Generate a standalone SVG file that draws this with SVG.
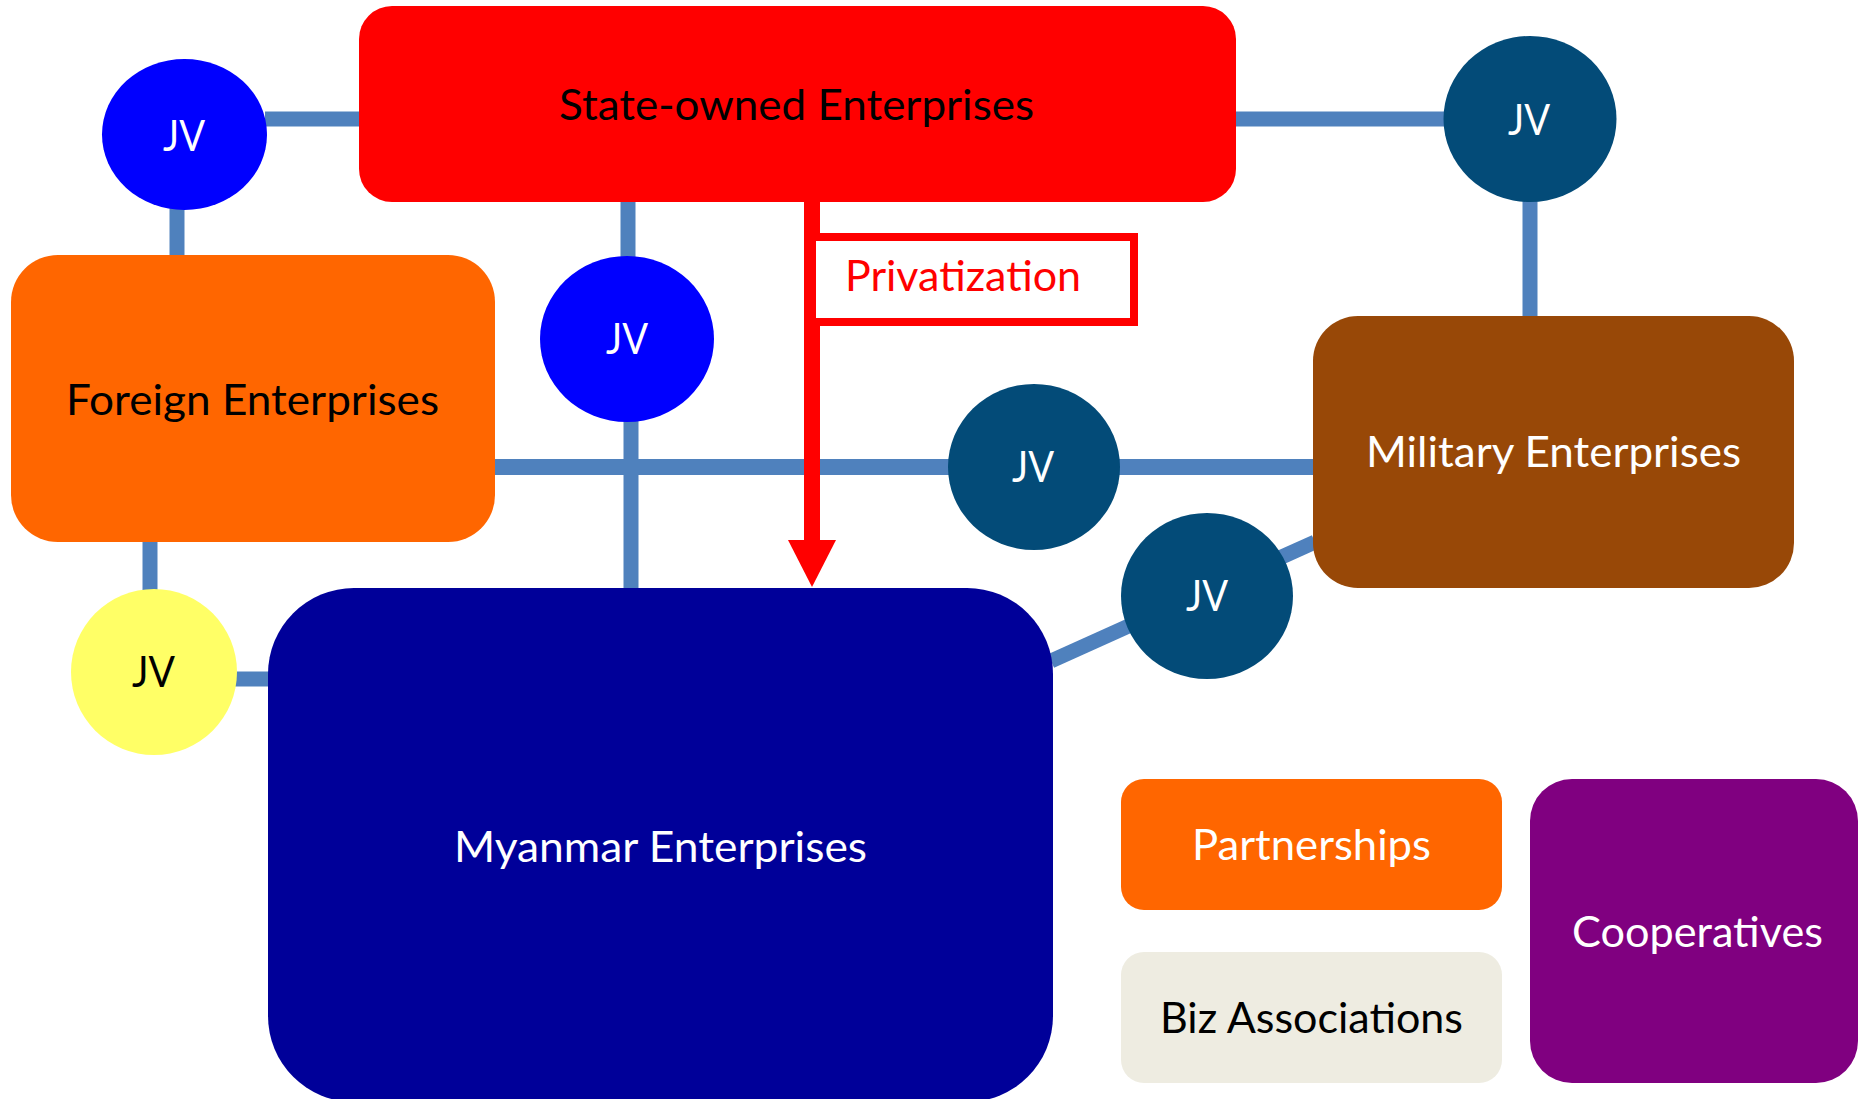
<svg xmlns="http://www.w3.org/2000/svg" width="1863" height="1099" viewBox="0 0 1863 1099">
<defs>
<style>
.t{font-family:Lato,"Open Sans","DejaVu Sans",sans-serif;font-size:42px;}
.w{fill:#ffffff}
.k{fill:#000000}
.c{stroke:#4f81bd;stroke-width:15;fill:none}
.teal{fill:#034b78}
.blue{fill:#0000ff}
</style>
</defs>
<rect width="1863" height="1099" fill="#ffffff"/>
<g id="connectors">
  <line class="c" x1="265" y1="119" x2="361" y2="119"/>
  <line class="c" x1="177" y1="205" x2="177" y2="258"/>
  <line class="c" x1="1232" y1="119" x2="1446" y2="119"/>
  <line class="c" x1="1530" y1="198" x2="1530" y2="318"/>
  <line class="c" x1="628" y1="200" x2="628" y2="260"/>
  <line class="c" x1="631" y1="418" x2="631" y2="590"/>
  <line class="c" style="stroke-width:16" x1="493" y1="467" x2="1315" y2="467"/>
  <line class="c" x1="150" y1="540" x2="150" y2="592"/>
  <line class="c" x1="234" y1="679" x2="270" y2="679"/>
  <line class="c" x1="1051" y1="661" x2="1315" y2="542"/>
  <g id="privatization-arrow">
    <line x1="812" y1="200" x2="812" y2="544" stroke="#ff0000" stroke-width="16"/>
    <polygon points="788,540 836,540 812,587" fill="#ff0000"/>
  </g>
</g>
<g id="privatization-label">
  <rect x="812" y="237" width="322" height="85" fill="#ffffff" stroke="#ff0000" stroke-width="8"/>
  <text class="t" x="845" y="291" fill="#ff0000" textLength="236" lengthAdjust="spacingAndGlyphs">Privatization</text>
</g>
<g id="state-owned">
  <rect x="359" y="6" width="877" height="196" rx="33" fill="#ff0000"/>
  <text class="t k" x="559" y="120" textLength="475" lengthAdjust="spacingAndGlyphs">State-owned Enterprises</text>
</g>
<g id="jv-state-foreign">
  <ellipse class="blue" cx="184.5" cy="134.5" rx="82.5" ry="75.5"/>
  <text class="t w" x="163" y="151" textLength="42" lengthAdjust="spacingAndGlyphs">JV</text>
</g>
<g id="foreign">
  <rect x="11" y="255" width="484" height="287" rx="47" fill="#ff6600"/>
  <text class="t k" x="66" y="415" textLength="373" lengthAdjust="spacingAndGlyphs">Foreign Enterprises</text>
</g>
<g id="jv-state-myanmar">
  <ellipse class="blue" cx="627" cy="339" rx="87" ry="83"/>
  <text class="t w" x="606" y="354" textLength="42" lengthAdjust="spacingAndGlyphs">JV</text>
</g>
<g id="jv-state-military">
  <ellipse class="teal" cx="1530" cy="119" rx="86.5" ry="83"/>
  <text class="t w" x="1508" y="135" textLength="42" lengthAdjust="spacingAndGlyphs">JV</text>
</g>
<g id="military">
  <rect x="1313" y="316" width="481" height="272" rx="45" fill="#984807"/>
  <text class="t w" x="1366" y="467" textLength="375" lengthAdjust="spacingAndGlyphs">Military Enterprises</text>
</g>
<g id="jv-foreign-military">
  <ellipse class="teal" cx="1034" cy="467" rx="86" ry="83"/>
  <text class="t w" x="1012" y="482" textLength="42" lengthAdjust="spacingAndGlyphs">JV</text>
</g>
<g id="jv-myanmar-military">
  <ellipse class="teal" cx="1207" cy="596" rx="86" ry="83"/>
  <text class="t w" x="1186" y="611" textLength="42" lengthAdjust="spacingAndGlyphs">JV</text>
</g>
<g id="myanmar">
  <rect x="268" y="588" width="785" height="514" rx="86" fill="#000099"/>
  <text class="t w" x="454" y="862" textLength="413" lengthAdjust="spacingAndGlyphs">Myanmar Enterprises</text>
</g>
<g id="jv-foreign-myanmar">
  <ellipse cx="154" cy="672" rx="83" ry="83" fill="#ffff66"/>
  <text class="t k" x="132" y="687" textLength="43" lengthAdjust="spacingAndGlyphs">JV</text>
</g>
<g id="partnerships">
  <rect x="1121" y="779" width="381" height="131" rx="23" fill="#ff6600"/>
  <text class="t w" x="1192" y="860" textLength="239" lengthAdjust="spacingAndGlyphs">Partnerships</text>
</g>
<g id="biz-associations">
  <rect x="1121" y="952" width="381" height="131" rx="23" fill="#eeece1"/>
  <text class="t k" x="1160" y="1033" textLength="303" lengthAdjust="spacingAndGlyphs">Biz Associations</text>
</g>
<g id="cooperatives">
  <rect x="1530" y="779" width="328" height="304" rx="42" fill="#800080"/>
  <text class="t w" x="1572" y="947" textLength="251" lengthAdjust="spacingAndGlyphs">Cooperatives</text>
</g>
</svg>
